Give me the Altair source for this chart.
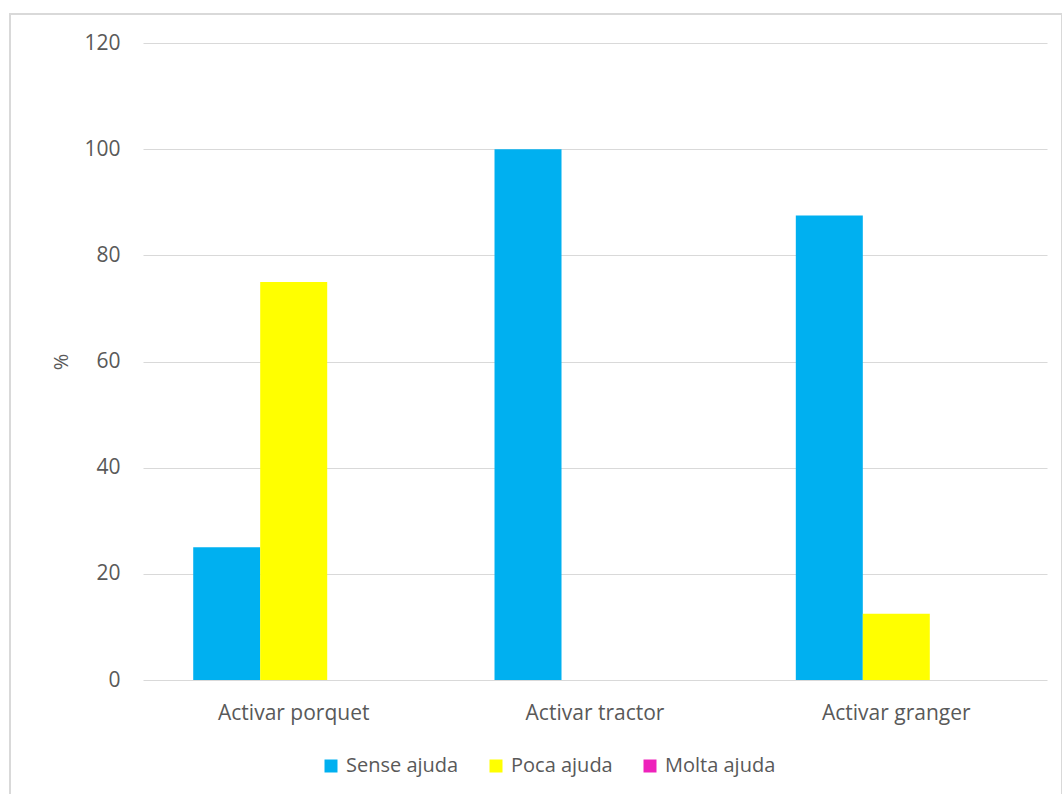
import altair as alt
import pandas as pd

# Share of each help level per task (%)
tasks = ["Activar porquet", "Activar tractor", "Activar granger"]
series = ["Sense ajuda", "Poca ajuda", "Molta ajuda"]
sense_ajuda = [25, 100, 87.5]
poca_ajuda = [75, 0, 12.5]
molta_ajuda = [0, 0, 0]
colors = ["#00B0F0", "#FFFF00", "#EE22BB"]
y_ticks = [0, 20, 40, 60, 80, 100, 120]

rows = []
for i, t in enumerate(tasks):
    for s, vals in zip(series, [sense_ajuda, poca_ajuda, molta_ajuda]):
        rows.append({"task": t, "serie": s, "value": vals[i]})
df = pd.DataFrame(rows)

FONT = "Open Sans"
LABEL = "#595959"
GRID = "#d9d9d9"

bars = alt.Chart(df).mark_bar(size=67, clip=False).encode(
    x=alt.X("task:N", sort=tasks,
            scale=alt.Scale(paddingInner=0.333, paddingOuter=0.1667),
            axis=alt.Axis(title=None, labelAngle=0, domain=False, ticks=False,
                          labelFontSize=21, labelColor=LABEL, labelFont=FONT,
                          labelPadding=22)),
    xOffset=alt.XOffset("serie:N", sort=series,
                        scale=alt.Scale(paddingInner=0, paddingOuter=0)),
    y=alt.Y("value:Q", scale=alt.Scale(domain=[0, 120], nice=False),
            axis=alt.Axis(title="%", values=y_ticks, domain=False, ticks=False,
                          grid=True, gridColor=GRID, gridWidth=1,
                          labelFontSize=21, labelColor=LABEL, labelFont=FONT,
                          labelPadding=23, titleFontSize=20, titleColor=LABEL,
                          titleFont=FONT, titleFontWeight="normal",
                          titlePadding=12)),
    color=alt.Color("serie:N", sort=series,
                    scale=alt.Scale(domain=series, range=colors),
                    legend=alt.Legend(title=None, orient="none", direction="horizontal",
                                      legendX=178, legendY=713,
                                      symbolType="square", symbolSize=169,
                                      symbolStrokeWidth=0, labelFontSize=20,
                                      labelColor=LABEL, labelFont=FONT,
                                      labelOffset=5, columnPadding=27)),
)

# Outer frame around the whole chart area
frame = alt.Chart(pd.DataFrame({"k": [0]})).mark_rect(
    fill=None, stroke=GRID, strokeWidth=2, clip=False
).encode(
    x=alt.value(-133), x2=alt.value(919),
    y=alt.value(-29), y2=alt.value(760),
)

chart = alt.layer(frame, bars).properties(
    width=904, height=637,
    padding={"left": 143, "top": 43, "right": 15, "bottom": 114},
    autosize=alt.AutoSizeParams(type="none"),
    background="white",
).configure_view(stroke=None)

chart.save("out.html", embed_options={"renderer": "svg", "actions": False})
